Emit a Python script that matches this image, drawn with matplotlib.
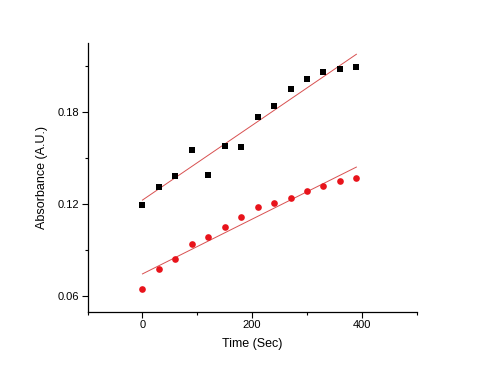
import matplotlib
matplotlib.use("Agg")
import matplotlib.pyplot as plt
from matplotlib.ticker import MultipleLocator

# Data
time_sec = [0, 30, 60, 90, 120, 150, 180, 210, 240, 270, 300, 330, 360, 390]
black_abs = [0.1193, 0.1311, 0.1383, 0.1548, 0.1387, 0.1578, 0.1572,
             0.1763, 0.1835, 0.1948, 0.2011, 0.2059, 0.2076, 0.2093]
red_abs = [0.0643, 0.0772, 0.0841, 0.0941, 0.0985, 0.1048, 0.1115,
           0.1178, 0.1204, 0.1239, 0.1285, 0.1317, 0.1348, 0.1370]

# Linear fit lines (end points)
fit_x = [0, 390]
black_fit = [0.1224, 0.2174]
red_fit = [0.0743, 0.1439]

plt.rcParams['font.family'] = ['Liberation Sans', 'DejaVu Sans']

fig = plt.figure(figsize=(4.84, 3.73), dpi=100)
ax = fig.add_axes([0.181, 0.164, 0.680, 0.721])

ax.plot(fit_x, black_fit, color='#d85050', lw=0.7)
ax.plot(fit_x, red_fit, color='#d85050', lw=0.7)
ax.plot(time_sec, black_abs, 's', color='black', markersize=4.2, markeredgewidth=0)
ax.plot(time_sec, red_abs, 'o', color='#e8131b', markersize=4.8, markeredgewidth=0)

ax.set_xlim(-100, 500)
ax.set_ylim(0.0496, 0.2248)
ax.xaxis.set_major_locator(MultipleLocator(200))
ax.xaxis.set_minor_locator(MultipleLocator(100))
ax.yaxis.set_major_locator(MultipleLocator(0.06))
ax.yaxis.set_minor_locator(MultipleLocator(0.03))
ax.yaxis.set_major_formatter(plt.FuncFormatter(lambda v, p: f'{v:.2f}'))

for side in ['top', 'right']:
    ax.spines[side].set_visible(False)
for side in ['left', 'bottom']:
    ax.spines[side].set_linewidth(0.9)

ax.tick_params(which='major', direction='out', length=4, width=0.8, labelsize=8, pad=2)
ax.tick_params(which='minor', direction='out', length=2.5, width=0.8)

ax.set_xlabel('Time (Sec)', fontsize=9, labelpad=6)
ax.set_ylabel('Absorbance (A.U.)', fontsize=9, labelpad=7)

fig.savefig('out.png', dpi=100)
